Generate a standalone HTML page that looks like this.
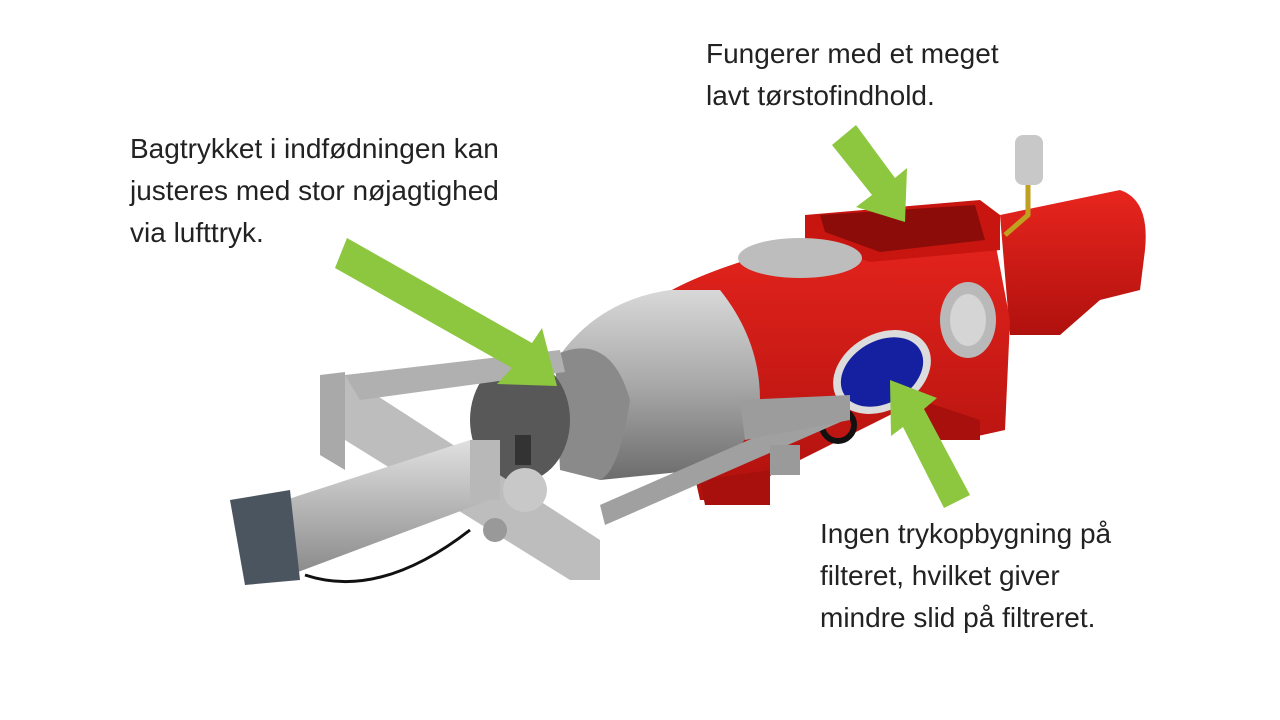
<!DOCTYPE html>
<html><head><meta charset="utf-8"><style>
html,body{margin:0;padding:0;background:#fff;}
#c{position:relative;width:1280px;height:720px;overflow:hidden;font-family:"Liberation Sans",sans-serif;color:#222;}
.t{position:absolute;font-size:28px;line-height:42px;white-space:nowrap;}
svg{position:absolute;left:0;top:0;}
</style></head><body><div id="c">
<svg width="1280" height="720" viewBox="0 0 1280 720">
<defs>
<linearGradient id="g1" x1="0" y1="0" x2="0" y2="1"><stop offset="0" stop-color="#d8d8d8"/><stop offset="0.5" stop-color="#a8a8a8"/><stop offset="1" stop-color="#6c6c6c"/></linearGradient>
<linearGradient id="r1" x1="0" y1="0" x2="0" y2="1"><stop offset="0" stop-color="#e8251e"/><stop offset="1" stop-color="#b0110e"/></linearGradient>
<linearGradient id="p1" x1="0" y1="0" x2="0" y2="1"><stop offset="0" stop-color="#e0e0e0"/><stop offset="1" stop-color="#8a8a8a"/></linearGradient>
</defs>
<path d="M1000 215 L1120 190 Q1150 200 1145 250 L1140 290 L1100 300 L1060 335 L1010 335 Z" fill="url(#r1)"/>
<path d="M655 300 Q700 270 800 245 L990 215 L1010 320 L1005 430 L960 440 L900 410 L780 470 L730 500 L700 500 Z" fill="url(#r1)"/>
<path d="M700 480 L770 470 L770 505 L705 505 Z" fill="#a8100d"/>
<path d="M920 400 L980 420 L980 440 L930 440 Z" fill="#a8100d"/>
<path d="M805 215 L980 200 L1000 215 L1000 250 L870 262 L805 240 Z" fill="#c8150f"/>
<path d="M820 215 L975 205 L985 240 L880 252 L825 232 Z" fill="#8c0c0a"/>
<ellipse cx="800" cy="258" rx="62" ry="20" fill="#bdbdbd"/>
<ellipse cx="968" cy="320" rx="28" ry="38" fill="#b9b9b9"/>
<ellipse cx="968" cy="320" rx="18" ry="26" fill="#d5d5d5"/>
<rect x="1015" y="135" width="28" height="50" rx="8" fill="#c8c8c8"/>
<path d="M1028 185 L1028 215 L1005 235" fill="none" stroke="#c0a020" stroke-width="5"/>
<ellipse cx="882" cy="372" rx="52" ry="38" transform="rotate(-30 882 372)" fill="#dcdcdc"/>
<ellipse cx="882" cy="372" rx="44" ry="31" transform="rotate(-30 882 372)" fill="#1520a0"/>
<circle cx="838" cy="425" r="16" fill="none" stroke="#111" stroke-width="6"/>
<path d="M560 355 Q600 300 670 290 L720 290 Q760 340 760 400 Q755 450 700 470 L600 480 Z" fill="url(#g1)"/>
<path d="M555 355 Q610 330 630 400 Q620 470 600 480 L560 470 Z" fill="#8a8a8a"/>
<ellipse cx="520" cy="420" rx="50" ry="62" fill="#585858"/>
<path d="M320 375 L345 372 L345 470 L320 455 Z" fill="#a9a9a9"/>
<path d="M345 375 L600 540 L600 580 L570 580 L345 440 Z" fill="#bdbdbd"/>
<path d="M345 375 L560 350 L565 372 L360 400 Z" fill="#b0b0b0"/>
<path d="M600 505 L840 400 L845 420 L605 525 Z" fill="#a0a0a0"/>
<path d="M740 400 L850 395 L850 420 L745 440 Z" fill="#9c9c9c"/>
<rect x="770" y="445" width="30" height="30" fill="#9a9a9a"/>
<path d="M270 505 L470 440 L490 500 L290 575 Z" fill="url(#p1)"/>
<path d="M230 500 L290 490 L300 580 L245 585 Z" fill="#4a5560"/>
<rect x="470" y="440" width="30" height="60" fill="#b8b8b8"/>
<circle cx="525" cy="490" r="22" fill="#c8c8c8"/>
<circle cx="495" cy="530" r="12" fill="#999"/>
<rect x="515" y="435" width="16" height="30" fill="#333"/>
<path d="M305 575 Q380 600 470 530" fill="none" stroke="#111" stroke-width="3"/>
<polygon points="335,268 347,238 532,343 542,328 557,386 497,384 512,368" fill="#8dc63f"/>
<polygon points="832,145 856,125 895,178 907,168 905,222 856,207 872,195" fill="#8dc63f"/>
<polygon points="970,495 944,508 903,427 891,436 890,380 937,398 924,409" fill="#8dc63f"/>
</svg>
<div class="t" style="left:706px;top:33px;">Fungerer med et meget<br>lavt tørstofindhold.</div>
<div class="t" style="left:130px;top:128px;">Bagtrykket i indfødningen kan<br>justeres med stor nøjagtighed<br>via lufttryk.</div>
<div class="t" style="left:820px;top:513px;">Ingen trykopbygning på<br>filteret, hvilket giver<br>mindre slid på filtreret.</div>
</div></body></html>
